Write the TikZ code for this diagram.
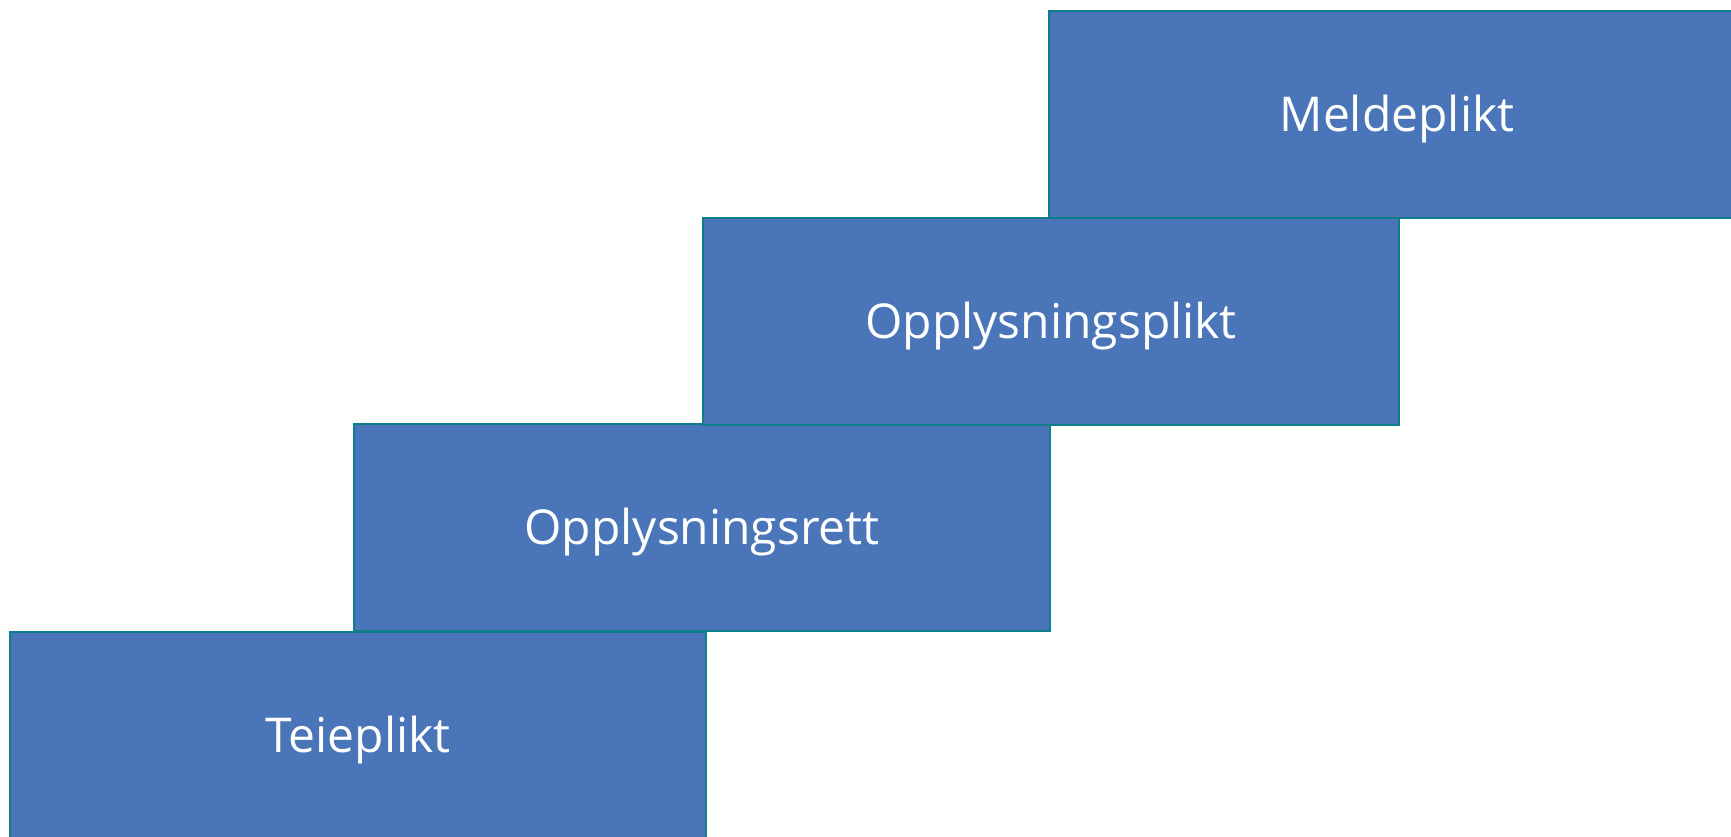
\documentclass[tikz,border=0pt]{standalone}
\usepackage{fontspec}
\setmainfont{Open Sans}
\definecolor{boxfill}{HTML}{4A76B9}
\definecolor{boxline}{HTML}{0E7F8A}
\begin{document}
\begin{tikzpicture}[x=1pt,y=-1pt,
  box/.style={draw=boxline, fill=boxfill, line width=2pt,
    minimum width=696pt, minimum height=207pt, inner sep=0pt, outer sep=0pt,
    text height=40pt, text depth=6pt,
    text=white, font=\fontsize{48}{58}\selectfont, anchor=north west}]
\useasboundingbox (0,0) rectangle (1731,836);
\clip (0,0) rectangle (1731,836);
\node[box] (teie) at (10,632) {Teieplikt};
\node[box] (rett) at (354,424) {Opplysningsrett};
\node[box] (plikt) at (703,218) {Opplysningsplikt};
\node[box] (meld) at (1049,11) {Meldeplikt};
\end{tikzpicture}
\end{document}
